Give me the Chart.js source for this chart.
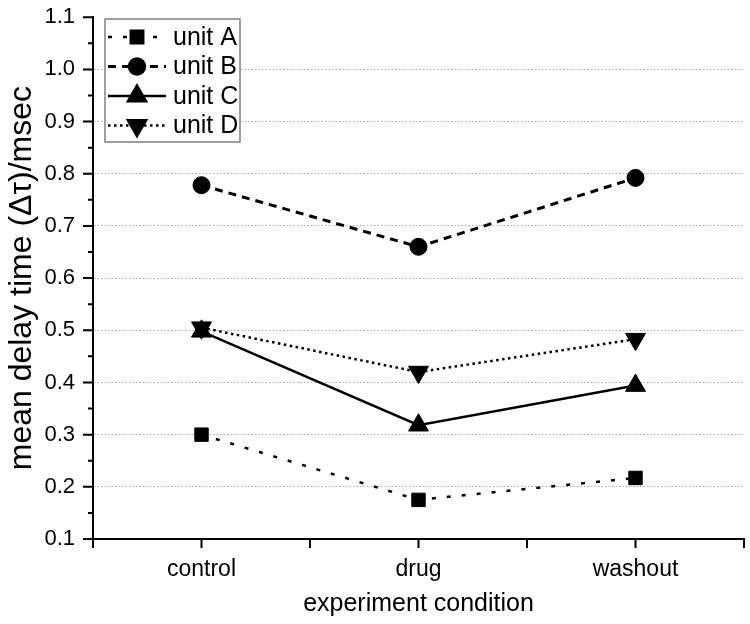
<!DOCTYPE html>
<html>
<head>
  <meta charset="utf-8">
  <title>mean delay time</title>
  <script src="https://cdn.jsdelivr.net/npm/chart.js@4.4.1/dist/chart.umd.min.js"></script>
  <style>
    html, body { margin: 0; padding: 0; background: #fff; }
    #wrap { width: 750px; height: 624px; }
  </style>
</head>
<body>
  <div id="wrap"><canvas id="delayChart"></canvas></div>

  <script>
    const conditions = ['control', 'drug', 'washout'];
    const unitA = [0.300, 0.175, 0.217];
    const unitB = [0.778, 0.660, 0.792];
    const unitC = [0.498, 0.318, 0.394];
    const unitD = [0.505, 0.420, 0.483];
    const yMin = 0.1, yMax = 1.1, yStep = 0.05;

    const FONT = '"Liberation Sans", Arial, sans-serif';
    const CLEAR = 'rgba(0,0,0,0)';

    // legend drawn inside the plot, line sample + marker like the original
    const legendBox = {
      id: 'legendBox',
      afterDraw(chart) {
        const ctx = chart.ctx;
        const x0 = 105, y0 = 19, w = 135, h = 123;
        ctx.save();
        ctx.fillStyle = '#fff';
        ctx.fillRect(x0, y0, w, h);
        ctx.strokeStyle = '#808080';
        ctx.lineWidth = 1.5;
        ctx.strokeRect(x0, y0, w, h);
        chart.data.datasets.forEach((ds, i) => {
          const cy = y0 + 18 + i * 29.5;
          ctx.save();
          ctx.strokeStyle = '#000';
          ctx.lineWidth = ds.borderWidth;
          ctx.setLineDash(ds.borderDash || []);
          ctx.beginPath();
          ctx.moveTo(x0 + 3, cy);
          ctx.lineTo(x0 + 61, cy);
          ctx.stroke();
          ctx.restore();
          ctx.fillStyle = '#000';
          ctx.strokeStyle = '#000';
          Chart.helpers.drawPoint(ctx, {
            pointStyle: ds.pointStyle,
            radius: ds.pointRadius,
            rotation: ds.pointRotation || 0,
            borderWidth: 1
          }, x0 + 32, cy);
          ctx.font = '25px ' + FONT;
          ctx.textBaseline = 'middle';
          ctx.textAlign = 'left';
          ctx.fillText(ds.label, x0 + 68, cy + 1);
        });
        ctx.restore();
      }
    };

    // tick marks: outward, minor ones shorter on y
    const axisTicks = {
      id: 'axisTicks',
      afterDraw(chart) {
        const ctx = chart.ctx;
        const xs = chart.scales.x, ys = chart.scales.y;
        const area = chart.chartArea;
        ctx.save();
        ctx.strokeStyle = '#000';
        ctx.lineWidth = 2;
        ctx.beginPath();
        ys.ticks.forEach(t => {
          const py = ys.getPixelForValue(t.value);
          const major = Math.round(t.value * 100) % 10 === 0;
          ctx.moveTo(area.left, py);
          ctx.lineTo(area.left - (major ? 10 : 5), py);
        });
        const cw = (area.right - area.left) / conditions.length;
        for (let i = 0; i <= conditions.length; i++) {
          const px = area.left + i * cw;
          ctx.moveTo(px, area.bottom);
          ctx.lineTo(px, area.bottom + 9);
        }
        conditions.forEach((c, i) => {
          const px = xs.getPixelForValue(i);
          ctx.moveTo(px, area.bottom);
          ctx.lineTo(px, area.bottom + 9);
        });
        ctx.stroke();
        ctx.restore();
      }
    };

    const ctx = document.getElementById('delayChart').getContext('2d');
    new Chart(ctx, {
      type: 'line',
      data: {
        labels: conditions,
        datasets: [{
          label: 'unit A',
          data: unitA,
          borderColor: '#000',
          backgroundColor: '#000',
          borderWidth: 2.5,
          borderDash: [4, 11],
          pointStyle: 'rect',
          pointRadius: 9.5,
          pointBorderWidth: 1
        }, {
          label: 'unit B',
          data: unitB,
          borderColor: '#000',
          backgroundColor: '#000',
          borderWidth: 3,
          borderDash: [8, 6],
          pointStyle: 'circle',
          pointRadius: 8.5,
          pointBorderWidth: 1
        }, {
          label: 'unit C',
          data: unitC,
          borderColor: '#000',
          backgroundColor: '#000',
          borderWidth: 2.5,
          borderDash: [],
          pointStyle: 'triangle',
          pointRadius: 11.5,
          pointBorderWidth: 1
        }, {
          label: 'unit D',
          data: unitD,
          borderColor: '#000',
          backgroundColor: '#000',
          borderWidth: 2.5,
          borderDash: [2.5, 3.5],
          pointStyle: 'triangle',
          pointRotation: 180,
          pointRadius: 11.5,
          pointBorderWidth: 1
        }]
      },
      options: {
        responsive: true,
        maintainAspectRatio: false,
        animation: false,
        layout: { autoPadding: false, padding: { top: 0, right: 6, left: 0, bottom: 0 } },
        plugins: {
          legend: { display: false },
          tooltip: { enabled: false }
        },
        elements: { line: { tension: 0, fill: false } },
        scales: {
          x: {
            offset: true,
            grid: {
              display: true,
              drawOnChartArea: false,
              drawTicks: true,
              tickLength: 13,
              color: CLEAR,
              tickColor: CLEAR
            },
            border: { display: true, color: '#000', width: 2 },
            ticks: {
              color: '#000',
              padding: 4,
              font: { family: FONT, size: 23 }
            },
            title: {
              display: true,
              text: 'experiment condition',
              color: '#000',
              font: { family: FONT, size: 25 },
              padding: { top: 0, bottom: 5 }
            },
            afterFit(scale) { scale.height = 85; }
          },
          y: {
            min: yMin,
            max: yMax,
            grid: {
              drawTicks: true,
              tickLength: 14,
              tickColor: CLEAR,
              lineWidth: 1,
              color(c) {
                const v = Math.round(c.tick.value * 100);
                return (v % 10 === 0 && v > 10 && v < 110) ? '#a8a8a8' : CLEAR;
              }
            },
            border: { display: true, color: '#000', width: 2, dash: [1.5, 2] },
            ticks: {
              stepSize: yStep,
              autoSkip: false,
              color: '#000',
              padding: 4,
              font: { family: FONT, size: 22 },
              callback(value) {
                const v = Math.round(value * 100);
                return v % 10 === 0 ? (v / 100).toFixed(1) : '';
              }
            },
            title: {
              display: true,
              text: 'mean delay time (Δτ)/msec',
              color: '#000',
              font: { family: FONT, size: 32 },
              padding: { top: 3, bottom: 0 }
            },
            afterFit(scale) { scale.width = 93; }
          }
        }
      },
      plugins: [axisTicks, legendBox]
    });
  </script>
</body>
</html>
